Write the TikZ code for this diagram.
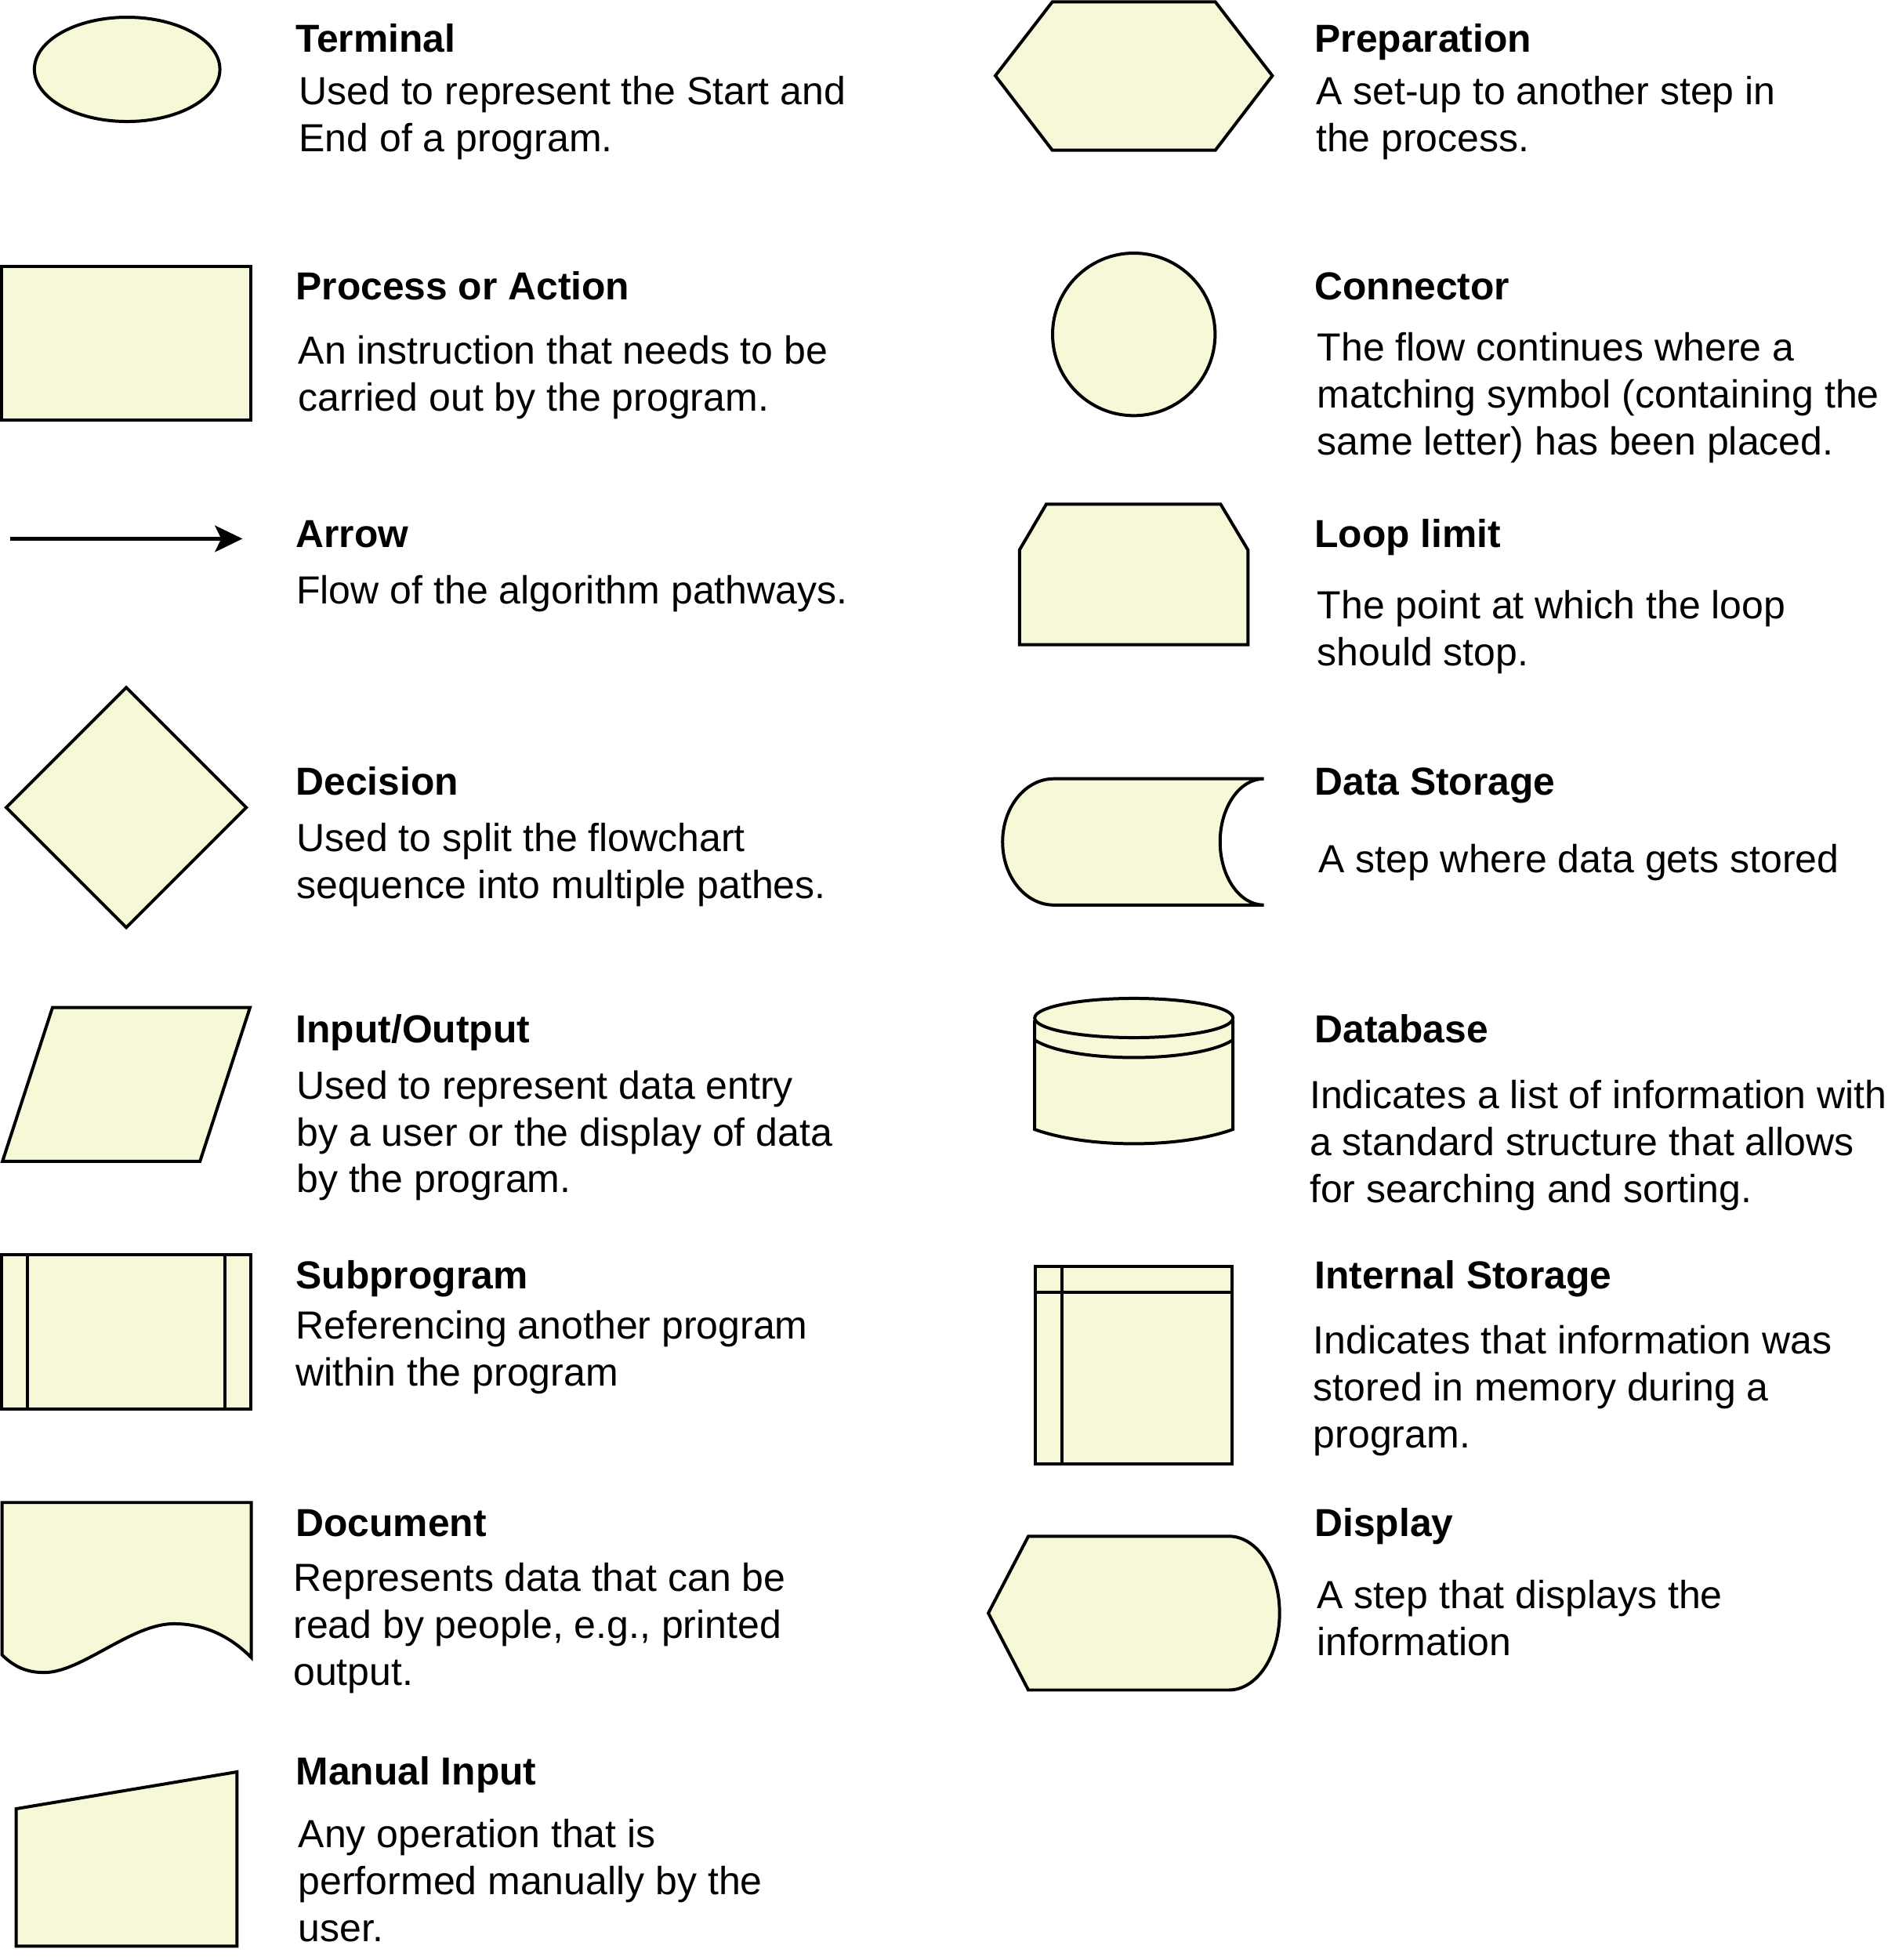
\documentclass[tikz,border=0pt]{standalone}
\usepackage{fontspec}
\setmainfont{Liberation Sans}
\usetikzlibrary{arrows.meta}
\definecolor{shapefill}{RGB}{247,248,216}
\begin{document}
\begin{tikzpicture}[x=1pt,y=-1pt,
  sym/.style={draw=black, fill=shapefill, line width=2.5pt, line join=miter},
  symline/.style={draw=black, line width=2.5pt},
  ttl/.style={anchor=base west, inner sep=0pt, font=\fontsize{31.2}{37.6}\selectfont\bfseries},
  desc/.style={anchor=base west, inner sep=0pt, align=left, font=\fontsize{31.35}{37.6}\selectfont},
  flow/.style={draw=black, line width=3.2pt, -{Stealth[length=22pt,width=21pt,inset=5pt]}},
]
\useasboundingbox (0,0) rectangle (1519,1568);

% ---------------- left column symbols ----------------
% Terminal
\path[sym] (101.7,55.5) ellipse [x radius=74.2, y radius=41.7];
% Process
\path[sym] (1.5,213) rectangle (200.5,336);
% Arrow
\coordinate (arrS) at (8,431);
\coordinate (arrE) at (194,431);
\draw[flow] (arrS) -- (arrE);
% Decision
\path[sym] (5,646) -- (101,550) -- (197,646) -- (101,742) -- cycle;
% Input/Output
\path[sym] (42,806) -- (200,806) -- (160,929) -- (2,929) -- cycle;
% Subprogram
\path[sym] (1.5,1004) rectangle (200.5,1127);
\draw[symline] (22,1004) -- (22,1127) (180,1004) -- (180,1127);
% Document
\path[sym] (1.7,1202) -- (201,1202) -- (201,1326)
  .. controls (185,1310) and (165,1299) .. (139,1299)
  .. controls (105,1299) and (65,1338) .. (35.5,1338)
  .. controls (22,1338) and (12,1334) .. (1.7,1324) -- cycle;
% Manual input
\path[sym] (13,1447) -- (189.5,1417.5) -- (189.5,1557) -- (13,1557) -- cycle;

% ---------------- right column symbols ----------------
% Preparation
\path[sym] (841.8,1.5) -- (972.2,1.5) -- (1017.8,60.6) -- (972.2,120.2) -- (841.8,120.2) -- (796.2,60.6) -- cycle;
% Connector
\path[sym] (907,267.5) circle [radius=65];
% Loop limit
\path[sym] (837,403.3) -- (976.4,403.3) -- (998.3,440) -- (998.3,515.8) -- (815.5,515.8) -- (815.5,440) -- cycle;
% Data storage
\path[sym] (843,623) -- (1011,623)
  .. controls (991.7,623) and (976,645.6) .. (976,673.5)
  .. controls (976,701.4) and (991.7,724) .. (1011,724)
  -- (843,724)
  .. controls (820.4,724) and (802,701.4) .. (802,673.5)
  .. controls (802,645.6) and (820.4,623) .. (843,623) -- cycle;
% Database
\path[sym] (827.6,816) -- (827.6,903.5)
  .. controls (870,918.8) and (944,918.8) .. (986.2,903.5) -- (986.2,816);
\draw[symline] (827.6,832) .. controls (857,850.7) and (957,850.7) .. (986.2,832);
\path[sym] (907,814.4) ellipse [x radius=79.3, y radius=15.7];
% Internal storage
\path[sym] (828,1013) rectangle (985.5,1171);
\draw[symline] (828,1034) -- (985.5,1034) (849.5,1013) -- (849.5,1171);
% Display
\path[sym] (822.6,1229) -- (983,1229)
  .. controls (1005.6,1229) and (1023.6,1256.5) .. (1023.6,1290.5)
  .. controls (1023.6,1324.5) and (1005.6,1352) .. (983,1352)
  -- (822.6,1352) -- (790.6,1290.5) -- cycle;

% ---------------- left column texts (desc anchored at last line's baseline) ----------------
\node[ttl] (tTerm) at (236.5,41.8) {Terminal};
\node[desc] (dTerm) at (239,121.2) {Used to represent the Start and\\End of a program.};
\node[ttl] (tProc) at (236.5,240) {Process or Action};
\node[desc] (dProc) at (238.5,328.6) {An instruction that needs to be\\carried out by the program.};
\node[ttl] (tArr) at (236.5,438) {Arrow};
\node[desc] (dArr) at (237,483) {Flow of the algorithm pathways.};
\node[ttl] (tDec) at (236.5,636) {Decision};
\node[desc] (dDec) at (237,718.6) {Used to split the flowchart\\sequence into multiple pathes.};
\node[ttl] (tIO) at (236.5,834) {Input/Output};
\node[desc] (dIO) at (237,954.2) {Used to represent data entry\\by a user or the display of data\\by the program.};
\node[ttl] (tSub) at (236.5,1031) {Subprogram};
\node[desc] (dSub) at (236.5,1108.6) {Referencing another program\\within the program};
\node[ttl] (tDoc) at (236.5,1229) {Document};
\node[desc] (dDoc) at (234.5,1348.2) {Represents data that can be\\read by people, e.g., printed\\output.};
\node[ttl] (tMan) at (236.5,1428) {Manual Input};
\node[desc] (dMan) at (238.5,1553.2) {Any operation that is\\performed manually by the\\user.};

% ---------------- right column texts ----------------
\node[ttl] (tPrep) at (1051.5,42) {Preparation};
\node[desc] (dPrep) at (1052.5,121.6) {A set-up to another step in\\the process.};
\node[ttl] (tCon) at (1051.5,240) {Connector};
\node[desc] (dCon) at (1053.5,364.2) {The flow continues where a\\matching symbol (containing the\\same letter) has been placed.};
\node[ttl] (tLoop) at (1051.5,438) {Loop limit};
\node[desc] (dLoop) at (1053.5,532.6) {The point at which the loop\\should stop.};
\node[ttl] (tDS) at (1051.5,636) {Data Storage};
\node[desc] (dDS) at (1054.5,698) {A step where data gets stored};
\node[ttl] (tDB) at (1051.5,834) {Database};
\node[desc] (dDB) at (1047.5,962.2) {Indicates a list of information with\\a standard structure that allows\\for searching and sorting.};
\node[ttl] (tIS) at (1051.5,1031) {Internal Storage};
\node[desc] (dIS) at (1050.5,1158.2) {Indicates that information was\\stored in memory during a\\program.};
\node[ttl] (tDisp) at (1051.5,1229) {Display};
\node[desc] (dDisp) at (1053.5,1324.6) {A step that displays the\\information};
\end{tikzpicture}
\end{document}
